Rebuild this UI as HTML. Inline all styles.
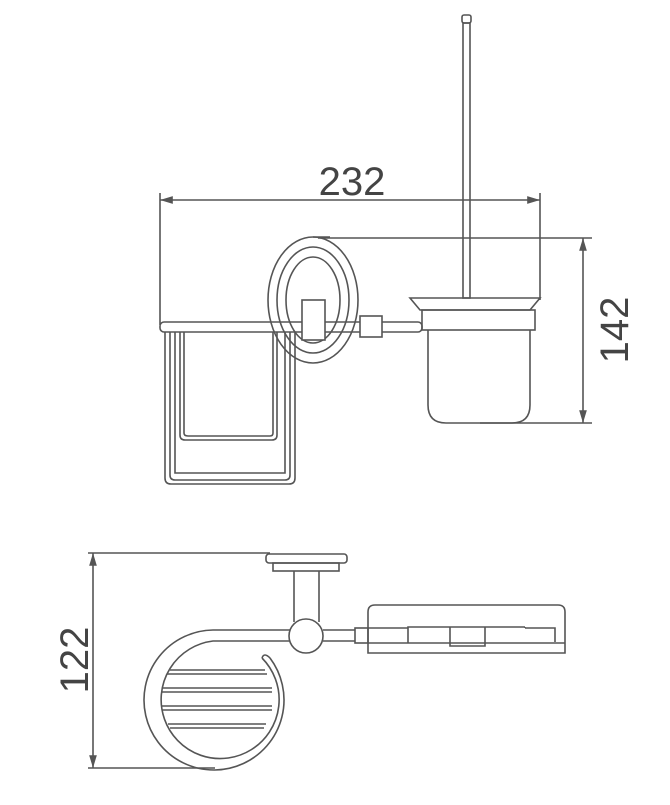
<!DOCTYPE html>
<html><head><style>body{margin:0;background:#fff}</style></head><body>
<svg width="670" height="800" viewBox="0 0 670 800" xmlns="http://www.w3.org/2000/svg" fill="none" stroke="#555" stroke-width="1.6">
<defs><marker id="a" viewBox="0 0 10 10" refX="10" refY="5" markerWidth="8" markerHeight="8" orient="auto-start-reverse"><path d="M0,2L10,5L0,8" fill="#555" stroke="none"/></marker></defs>
<!-- 232 dimension -->
<line x1="160" y1="200" x2="540" y2="200" marker-start="url(#a)" marker-end="url(#a)"/>
<line x1="160" y1="193" x2="160" y2="325"/>
<line x1="540" y1="193" x2="540" y2="300"/>
<text x="352" y="195" font-family="Liberation Sans, sans-serif" font-size="40" fill="#444" stroke="none" text-anchor="middle">232</text>
<!-- 142 dimension -->
<line x1="318" y1="238" x2="592" y2="238"/>
<line x1="480" y1="423" x2="592" y2="423"/>
<line x1="583" y1="238" x2="583" y2="423" marker-start="url(#a)" marker-end="url(#a)"/>
<text transform="translate(628,330) rotate(-90)" font-family="Liberation Sans, sans-serif" font-size="40" fill="#444" stroke="none" text-anchor="middle">142</text>
<!-- brush -->
<rect x="462" y="15" width="9" height="8" rx="2"/>
<rect x="463" y="23" width="7" height="275"/>
<!-- cup -->
<path d="M410,298 L540,298 L530,310 L420,310 Z"/>
<rect x="422" y="310" width="113" height="20"/>
<path d="M428,330 L428,405 Q428,423 446,423 L512,423 Q530,423 530,405 L530,330"/>
<!-- bar -->
<rect x="160" y="322" width="262" height="10" rx="4"/>
<rect x="360" y="316" width="22" height="21" fill="#fff"/>
<!-- basket -->
<path d="M165,332 V478 Q165,484 171,484 H289 Q295,484 295,478 V332"/>
<path d="M170,332 V475 Q170,480 175,480 H285 Q290,480 290,475 V332"/>
<path d="M175,332 V473 H285 V332"/>
<path d="M180,332 V435 Q180,440 185,440 H272 Q277,440 277,435 V332"/>
<path d="M184,332 V433 Q184,436 188,436 H270 Q273,436 273,433 V332"/>
<!-- oval -->
<ellipse cx="313" cy="300" rx="45" ry="63"/>
<ellipse cx="313" cy="300" rx="36" ry="53"/>
<ellipse cx="313" cy="300" rx="27" ry="43"/>
<line x1="313" y1="237" x2="330" y2="237"/>
<rect x="302" y="300" width="23" height="40" fill="#fff"/>
<!-- 122 dimension -->
<line x1="88" y1="553" x2="270" y2="553"/>
<line x1="88" y1="768" x2="215" y2="768"/>
<line x1="93" y1="553" x2="93" y2="768" marker-start="url(#a)" marker-end="url(#a)"/>
<text transform="translate(88,660) rotate(-90)" font-family="Liberation Sans, sans-serif" font-size="40" fill="#444" stroke="none" text-anchor="middle">122</text>
<!-- holder -->
<rect x="266" y="554" width="81" height="9" rx="3"/>
<rect x="273" y="563" width="66" height="8"/>
<line x1="294" y1="571" x2="294" y2="622"/>
<line x1="319" y1="571" x2="319" y2="622"/>
<path d="M290,630 L213,630 A70,70 0 1 0 270,658"/>
<path d="M290,641 L213,641 A59,59 0 1 0 262,658"/>
<path d="M262,658 Q264,652 270,658"/>
<path d="M170,670 H265 M167,674 H267"/>
<path d="M162,688 H272 M162,692 H272"/>
<path d="M162,706 H272 M162,710 H272"/>
<path d="M168,724 H266 M170,728 H264"/>
<circle cx="306" cy="636" r="17" fill="#fff"/>
<path d="M323,630 H355 M323,641 H355"/>
<rect x="355" y="628" width="13" height="15"/>
<path d="M368,653 V612 Q368,605 375,605 H558 Q565,605 565,612 V653 Z"/>
<path d="M368,643 H565"/>
<path d="M368,628 H408 V643 M408,628 V627 H525 M450,627 V646 H485 V627 M525,627 V628 M525,628 H555 V642"/>
</svg>
</body></html>
